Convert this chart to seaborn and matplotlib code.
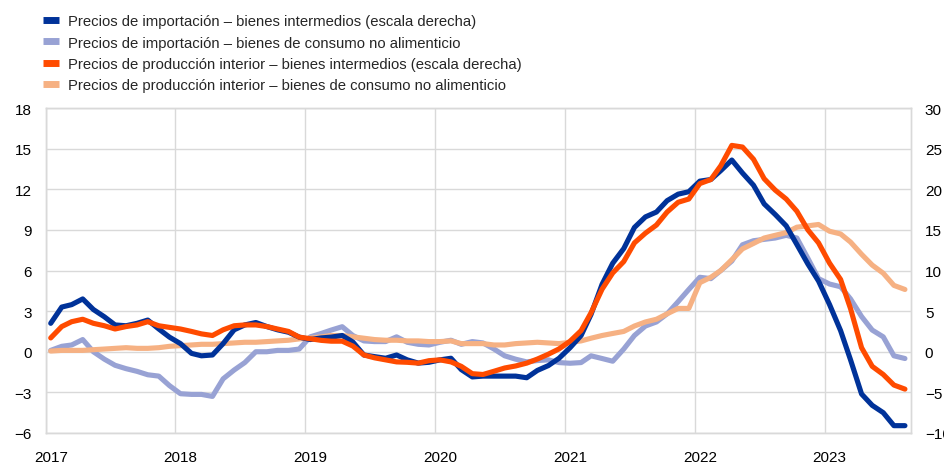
import pandas as pd
import seaborn as sns
import matplotlib.pyplot as plt
import matplotlib.transforms as mtransforms
from matplotlib.lines import Line2D

# Monthly observations, Jan 2017 - Aug 2023 (annual % changes)
months = pd.date_range("2017-01-01", periods=80, freq="MS") + pd.Timedelta(days=14)

# right scale
import_intermediate = [
    3.5, 5.5, 5.8, 6.5, 5.2, 4.3, 3.3, 3.2, 3.5, 3.9, 2.8, 1.8,
    1.0, -0.2, -0.5, -0.4, 1.0, 2.7, 3.3, 3.6, 3.1, 2.7, 2.4, 1.8,
    1.5, 1.7, 1.8, 2.0, 1.2, -0.4, -0.6, -0.8, -0.4, -1.0, -1.4, -1.3,
    -1.0, -0.8, -2.2, -3.1, -3.0, -3.0, -3.0, -3.0, -3.2, -2.3, -1.7, -0.8,
    0.5, 2.0, 4.6, 8.3, 10.9, 12.7, 15.3, 16.6, 17.2, 18.6, 19.4, 19.7,
    21.0, 21.2, 22.3, 23.6, 22.0, 20.5, 18.2, 16.9, 15.5, 13.2, 10.8, 8.7,
    5.8, 2.6, -1.0, -5.2, -6.6, -7.5, -9.1, -9.1,
]
# left scale
import_consumer = [
    0.1, 0.4, 0.5, 0.9, 0.0, -0.55, -1.0, -1.25, -1.45, -1.7, -1.8, -2.5,
    -3.1, -3.15, -3.15, -3.3, -2.0, -1.35, -0.8, 0.0, 0.0, 0.1, 0.1, 0.2,
    1.1, 1.35, 1.6, 1.85, 1.2, 0.8, 0.75, 0.75, 1.1, 0.7, 0.55, 0.5,
    0.7, 0.85, 0.55, 0.75, 0.65, 0.2, -0.3, -0.55, -0.75, -0.65, -0.6, -0.8,
    -0.85, -0.8, -0.3, -0.5, -0.7, 0.2, 1.2, 1.9, 2.2, 2.8, 3.7, 4.6,
    5.5, 5.4, 6.0, 6.7, 7.9, 8.2, 8.3, 8.4, 8.6, 8.4, 6.9, 5.4,
    5.0, 4.8, 3.9, 2.6, 1.6, 1.1, -0.3, -0.5,
]
# right scale
domestic_intermediate = [
    1.7, 3.1, 3.7, 4.0, 3.5, 3.2, 2.8, 3.1, 3.3, 3.7, 3.2, 3.0,
    2.8, 2.5, 2.2, 2.0, 2.7, 3.2, 3.3, 3.3, 3.1, 2.8, 2.5, 1.8,
    1.6, 1.4, 1.3, 1.3, 0.7, -0.4, -0.75, -1.0, -1.25, -1.3, -1.4, -1.1,
    -1.0, -1.25, -1.8, -2.7, -2.8, -2.4, -2.0, -1.75, -1.4, -0.9, -0.3, 0.35,
    1.3, 2.6, 4.8, 7.7, 9.7, 11.1, 13.4, 14.6, 15.6, 17.2, 18.4, 18.8,
    20.7, 21.2, 22.9, 25.4, 25.2, 23.7, 21.3, 19.9, 18.8, 17.3, 15.0, 13.4,
    10.9, 8.9, 5.3, 0.5, -1.8, -2.8, -4.1, -4.6,
]
# left scale
domestic_consumer = [
    0.05, 0.1, 0.1, 0.1, 0.15, 0.2, 0.25, 0.3, 0.25, 0.25, 0.3, 0.4,
    0.45, 0.5, 0.55, 0.55, 0.6, 0.65, 0.7, 0.7, 0.75, 0.8, 0.85, 0.95,
    1.0, 1.1, 1.2, 1.2, 1.1, 1.0, 0.9, 0.85, 0.85, 0.8, 0.8, 0.75,
    0.75, 0.8, 0.6, 0.6, 0.6, 0.5, 0.5, 0.6, 0.65, 0.7, 0.65, 0.6,
    0.7, 0.8, 1.0, 1.2, 1.35, 1.5, 1.9, 2.2, 2.4, 2.8, 3.2, 3.2,
    5.1, 5.5, 6.0, 6.8, 7.6, 8.0, 8.4, 8.6, 8.8, 9.2, 9.3, 9.4,
    8.9, 8.7, 8.1, 7.2, 6.4, 5.8, 4.9, 4.6,
]

labels = [
    "Precios de importación – bienes intermedios (escala derecha)",
    "Precios de importación – bienes de consumo no alimenticio",
    "Precios de producción interior – bienes intermedios (escala derecha)",
    "Precios de producción interior – bienes de consumo no alimenticio",
]
colors = ["#003299", "#98A2D4", "#FF4B00", "#F6B183"]

df = pd.DataFrame({
    "date": months,
    "imp_int": import_intermediate,
    "imp_cons": import_consumer,
    "dom_int": domestic_intermediate,
    "dom_cons": domestic_consumer,
})

sns.set_theme(style="white")
plt.rcParams["font.family"] = ["Liberation Sans", "DejaVu Sans"]

fig = plt.figure(figsize=(9.45, 4.64), dpi=100)
ax = fig.add_axes([0.0484, 0.0647, 0.9156, 0.7003])
ax2 = ax.twinx()

lw = 3.7
sns.lineplot(data=df, x="date", y="imp_cons", ax=ax, color=colors[1], lw=lw)
sns.lineplot(data=df, x="date", y="dom_cons", ax=ax, color=colors[3], lw=lw)
sns.lineplot(data=df, x="date", y="imp_int", ax=ax2, color=colors[0], lw=lw)
sns.lineplot(data=df, x="date", y="dom_int", ax=ax2, color=colors[2], lw=lw)

ax.set_xlim(pd.Timestamp("2017-01-01"), pd.Timestamp("2023-09-01"))
ax.set_ylim(-6, 18)
ax.set_yticks(range(-6, 19, 3))
ax2.set_ylim(-10, 30)
ax2.set_yticks(range(-10, 31, 5))
years = pd.date_range("2017-01-01", "2023-01-01", freq="YS")
ax.set_xticks(years)
ax.set_xticklabels([str(y.year) for y in years])

ax.grid(True, color="#d9d9d9", lw=1)
for a in (ax, ax2):
    a.set_xlabel("")
    a.set_ylabel("")
    a.tick_params(length=0, labelsize=11, colors="#000000")
    for s in a.spines.values():
        s.set_color("#d9d9d9")
        s.set_linewidth(1)
ax.tick_params(axis="y", pad=10)
ax.tick_params(axis="x", pad=12)
ax2.tick_params(axis="y", pad=10)

# year labels sit slightly to the right of the gridlines
shift = mtransforms.ScaledTranslation(0.05, 0, fig.dpi_scale_trans)
for lab in ax.get_xticklabels():
    lab.set_transform(lab.get_transform() + shift)

handles = [Line2D([], [], color=c, lw=5, solid_capstyle="butt") for c in colors]
fig.legend(handles, labels, loc="upper left", bbox_to_anchor=(0.0455, 0.967),
           frameon=False, fontsize=10.7, handlelength=1.08, handletextpad=0.6,
           labelspacing=0.49, borderpad=0, borderaxespad=0)

plt.savefig("out.png", dpi=100)
